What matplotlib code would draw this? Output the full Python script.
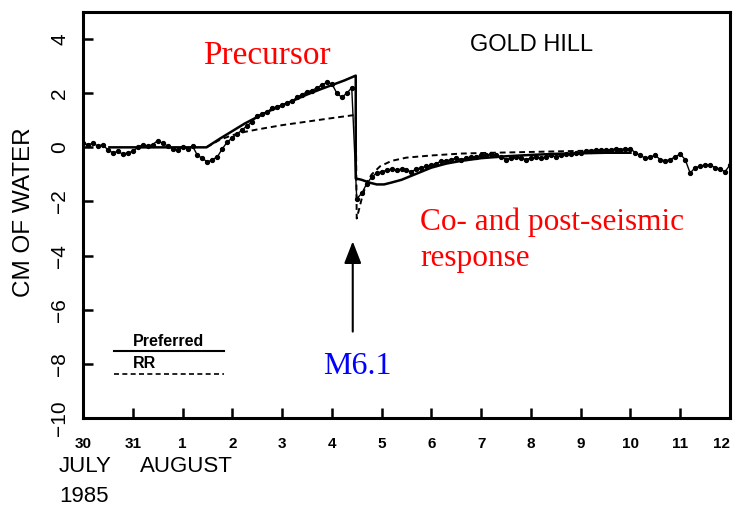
import matplotlib.pyplot as plt

plt.rcParams['font.family'] = ['Liberation Sans', 'DejaVu Sans']

# days counted from 1 August 1985 (30 July = -2)
day_ticks = [-2, -1, 0, 1, 2, 3, 4, 5, 6, 7, 8, 9, 10, 11]
day_labels = ['30', '31', '1', '2', '3', '4', '5', '6', '7', '8', '9', '10', '11', '12']
y_ticks = [4, 2, 0, -2, -4, -6, -8, -10]

# observed water level (cm), read every 0.1 day from -2.0 to 11.0
obs_val = [0.15, 0.1, 0.15, 0.05, 0.1, -0.1, -0.2, -0.15, -0.25, -0.2,
           -0.15, 0.0, 0.1, 0.05, 0.1, 0.25, 0.15, 0.05, -0.05, -0.1,
           0.0, -0.05, 0.05, -0.3, -0.4, -0.55, -0.45, -0.35, -0.05, 0.2,
           0.35, 0.5, 0.65, 0.8, 0.95, 1.15, 1.25, 1.3, 1.45, 1.5,
           1.55, 1.65, 1.7, 1.85, 1.95, 2.05, 2.1, 2.2, 2.3, 2.4,
           2.35, 2.0, 1.85, 2.0, 2.2, -1.9, -1.7, -1.35, -1.1, -0.95,
           -0.9, -0.85, -0.8, -0.85, -0.8, -0.85, -0.9, -0.8, -0.75, -0.7,
           -0.65, -0.6, -0.5, -0.5, -0.45, -0.4, -0.45, -0.4, -0.35, -0.35,
           -0.3, -0.3, -0.25, -0.3, -0.35, -0.45, -0.4, -0.35, -0.4, -0.45,
           -0.4, -0.35, -0.4, -0.35, -0.3, -0.35, -0.3, -0.25, -0.25, -0.2,
           -0.2, -0.15, -0.12, -0.1, -0.1, -0.08, -0.1, -0.05, -0.08, -0.05,
           -0.05, -0.2, -0.3, -0.4, -0.35, -0.3, -0.45, -0.5, -0.45, -0.35,
           -0.25, -0.45, -0.95, -0.75, -0.7, -0.65, -0.65, -0.75, -0.8, -0.9,
           -0.65]
obs_day = [-2.0 + 0.1 * i for i in range(len(obs_val))]

# preferred model
pref_day = [-1.47, 0.48, 0.75, 1.0, 1.25, 1.5, 1.75, 2.0, 2.25, 2.5, 2.75, 3.0, 3.25, 3.48,
            3.48, 3.6, 3.75, 3.9, 4.05, 4.2, 4.4, 4.6, 4.8, 5.0, 5.3, 5.6, 6.0, 6.5, 7.0,
            7.5, 8.0, 8.5, 9.0]
pref_val = [0, 0, 0.32, 0.6, 0.88, 1.12, 1.35, 1.55, 1.75, 1.95, 2.13, 2.3, 2.47, 2.65,
            -1.15, -1.2, -1.3, -1.37, -1.37, -1.3, -1.2, -1.05, -0.9, -0.75, -0.6, -0.5,
            -0.4, -0.33, -0.28, -0.24, -0.22, -0.2, -0.2]

# RR model
rr_day = [0.48, 0.75, 1.0, 1.25, 1.5, 1.75, 2.0, 2.5, 3.0, 3.48, 3.5, 3.6, 3.7, 3.8,
          3.97, 4.2, 4.5, 5.0, 5.6, 6.0, 7.0, 8.0, 9.0]
rr_val = [0, 0.28, 0.45, 0.57, 0.66, 0.74, 0.82, 0.95, 1.08, 1.2, -2.63, -1.9, -1.3,
          -1.0, -0.7, -0.5, -0.38, -0.3, -0.23, -0.21, -0.17, -0.13, -0.1]

fig = plt.figure(figsize=(7.36, 5.09), dpi=100)
ax = fig.add_axes([0.1128, 0.1788, 0.879, 0.7976])

ax.plot(obs_day, obs_val, ls='-', lw=1.0, marker='o', ms=2.8, color='black')
ax.plot(pref_day, pref_val, color='black', lw=1.8)
ax.plot(rr_day, rr_val, color='black', lw=1.4, ls=(0, (3, 2)))

ax.set_xlim(-2, 11)
ax.set_ylim(-10, 5)
ax.set_xticks(day_ticks)
ax.set_xticklabels(day_labels, fontsize=11, fontweight='bold')
ax.get_xticklabels()[-1].set_ha('right')
ax.set_yticks(y_ticks)
ax.set_yticklabels(['\u2212' + str(-v) if v < 0 else str(v) for v in y_ticks],
                   fontsize=15, rotation=90, va='center')
ax.tick_params(axis='both', direction='in', length=7, width=1.8,
               top=False, right=False)
ax.tick_params(axis='x', pad=14)
ax.tick_params(axis='y', pad=10)
for s in ax.spines.values():
    s.set_linewidth(2.2)

ax.set_ylabel('CM OF WATER', fontsize=17.5, va='center')
ax.yaxis.set_label_coords(-0.091, 0.507)

# legend drawn by hand
ax.plot([-1.37, 0.83], [-7.54, -7.54], color='black', lw=1.5)
ax.plot([-1.37, 0.83], [-8.39, -8.39], color='black', lw=1.2, ls=(0, (3, 2)))
ax.text(-1.0, -7.45, 'Preferred', fontsize=11.5, fontweight='bold', va='bottom')
ax.text(-1.0, -8.27, 'RR', fontsize=11.5, fontweight='bold', va='bottom')

ax.text(5.78, 3.79, 'GOLD HILL', fontsize=17, va='center')
ax.text(0.42, 3.09, 'Precursor', fontsize=24, color='red',
        family='Liberation Serif', va='baseline')
ax.text(4.77, -3.04, 'Co- and post-seismic', fontsize=22.5, color='red',
        family='Liberation Serif', va='baseline')
ax.text(4.77, -4.4, 'response', fontsize=22.5, color='red',
        family='Liberation Serif', va='baseline')
ax.text(2.82, -8.39, 'M6.1', fontsize=23, color='blue',
        family='Liberation Serif', va='baseline')
ax.annotate('', xy=(3.42, -3.37), xytext=(3.42, -6.91),
            arrowprops=dict(arrowstyle='-|>,head_length=0.9,head_width=0.35',
                            mutation_scale=15, lw=1.5, color='black'))

fig.text(59 / 736, 1 - 467 / 509, 'JULY', fontsize=16, va='center')
fig.text(140 / 736, 1 - 467 / 509, 'AUGUST', fontsize=16, va='center')
fig.text(59 / 736, 1 - 496 / 509, '1985', fontsize=16, va='center')

fig.savefig('out.png', dpi=100)
